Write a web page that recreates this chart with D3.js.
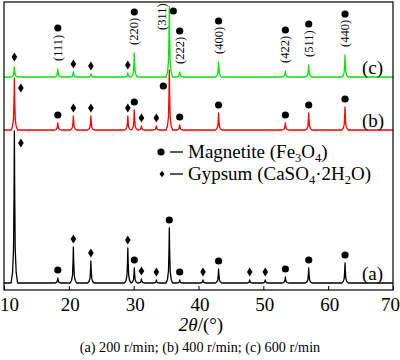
<!DOCTYPE html>
<html><head><meta charset="utf-8">
<script src="https://cdn.jsdelivr.net/npm/d3@7"></script>
<style>body{margin:0;background:#fff}svg{display:block}text{font-family:"Liberation Serif","Times New Roman",serif}</style>
</head><body><svg id="c" width="400" height="360"></svg>
<script>
// ---- data ----
const twoTheta   = [11.6, 18.3, 20.7, 23.4, 29.1, 30.1, 31.2, 33.5, 35.5, 37.1, 40.7, 43.1, 47.9, 50.3, 53.4, 57.0, 62.6];
const phase      = ["G","M","G","G","G","M","G","G","M","M","G","M","G","G","M","M","M"];
const hkl        = ["","(111)","","","","(220)","","","(311)","(222)","","(400)","","","(422)","(511)","(440)"];
const intensityA = [152, 5, 36, 22, 35, 15, 4, 3, 55, 3, 3, 14, 3, 3, 6, 15, 20];
const intensityB = [52, 7, 14, 14, 14, 20, 4, 4, 60, 5, 0, 17, 0, 0, 7, 17, 23];
const intensityC = [10, 8, 5, 3, 4, 24, 0, 0, 70, 5, 0, 15, 0, 0, 6, 12, 22];
const seriesNames = ["(a)", "(b)", "(c)"];
const seriesOffset = [7, 160, 213];
const seriesColors = ["#000000", "#ff0000", "#00e600"];
const xTicks = [10, 20, 30, 40, 50, 60, 70];
const legendLabels = ["Magnetite", "Gypsum"];
const caption = "(a) 200 r/min; (b) 400 r/min; (c) 600 r/min";

const svg = d3.select("#c");
const m = {l: 4, r: 7, t: 2, b: 70};
const W = 400, H = 360;
const x = d3.scaleLinear().domain([10, 70]).range([m.l, W - m.r]);
const y = d3.scaleLinear().domain([0, 288]).range([H - m.b, m.t]);

// peak profile (shape only)
const prof = [[-0.5,0],[-0.28,0.07],[-0.13,0.22],[-0.05,0.6],[0,1],[0.05,0.6],[0.13,0.22],[0.28,0.07],[0.5,0]];
function buildPts(ints, off){
  const pts = [[10, off]];
  twoTheta.forEach((p,i)=>{ if(ints[i]>0) prof.forEach(([dx,f])=>pts.push([p+dx, off+f*ints[i]])); });
  pts.push([70, off]);
  return pts;
}
const line = d3.line().x(d=>x(d[0])).y(d=>y(d[1]));
const allInts = [intensityA, intensityB, intensityC];

allInts.forEach((ints, s)=>{
  svg.append("path").attr("d", line(buildPts(ints, seriesOffset[s])))
    .attr("fill","none").attr("stroke", seriesColors[s]).attr("stroke-width",1.3).attr("stroke-linejoin","round");
});

// frame + axis
svg.append("rect").attr("x", x(10)).attr("y", y(288)).attr("width", x(70)-x(10)).attr("height", y(0)-y(288))
  .attr("fill","none").attr("stroke","#000").attr("stroke-width",1.2);
const ax = d3.axisBottom(x).tickValues(xTicks).tickSize(-4).tickPadding(8).tickFormat(d3.format("d"));
const g = svg.append("g").attr("transform",`translate(0,${y(0)})`).call(ax);
g.select(".domain").remove();
g.selectAll(".tick line").attr("stroke","#000").attr("stroke-width",1);
g.selectAll(".tick text").attr("font-size",19).attr("fill","#000").attr("font-family","Liberation Serif, serif")
  .attr("dx", d => d===10 ? 5 : (d===70 ? -3 : 1));

// markers
const diamond = "M0,-4.5L2.8,0L0,4.5L-2.8,0Z";
function marker(px, py, ph){
  if(ph==="M") svg.append("circle").attr("cx",px).attr("cy",py).attr("r",3.6).attr("fill","#000");
  else svg.append("path").attr("d",diamond).attr("transform",`translate(${px},${py})`).attr("fill","#000");
}
allInts.forEach((ints, s)=>{
  twoTheta.forEach((p,i)=>{
    if(ints[i]<=0) return;
    const top = y(seriesOffset[s]+ints[i]);
    let mx = x(p), my;
    if(s===2 && phase[i]==="M"){
      if(hkl[i]==="(311)"){
        svg.append("text").attr("transform",`translate(${x(p)-7},30) rotate(-90)`).attr("font-size",12.5)
          .attr("dominant-baseline","central").text(hkl[i]);
        marker(x(p)+4, top+4, "M");
        return;
      }
      svg.append("text").attr("transform",`translate(${x(p)},${top-8}) rotate(-90)`).attr("font-size",12.5)
        .attr("dominant-baseline","central").text(hkl[i]);
      marker(mx, top-41, "M");
      return;
    }
    my = top - 8;
    if(i===0 && s===0){ mx = x(p)+6.5; my = top+12; }
    if(i===0 && s===1){ mx = x(p)+6.5; my = top+10; }
    if(i===8 && s===1){ mx = x(p)-6; my = top+16; }
    if(i===0 && s===2){ my = top-10; }
    marker(mx, my, phase[i]);
  });
  svg.append("text").attr("x", 362).attr("y", y(seriesOffset[s]) - 3).attr("font-size",19).text(seriesNames[s]);
});

// legend
const lg = svg.append("g");
marker(161, 152, "M");
lg.append("line").attr("x1",170).attr("x2",183).attr("y1",152).attr("y2",152).attr("stroke","#000").attr("stroke-width",1.3);
svg.append("path").attr("d","M0,-3.2L2.5,0L0,3.2L-2.5,0Z").attr("transform","translate(162,174)").attr("fill","#000");
lg.append("line").attr("x1",170).attr("x2",183).attr("y1",174).attr("y2",174).attr("stroke","#000").attr("stroke-width",1.3);
const t1 = lg.append("text").attr("x",188).attr("y",158).attr("font-size",19);
t1.append("tspan").text(legendLabels[0] + " (Fe");
t1.append("tspan").attr("font-size",12.5).attr("dy",4).text("3");
t1.append("tspan").attr("dy",-4).text("O");
t1.append("tspan").attr("font-size",12.5).attr("dy",4).text("4");
t1.append("tspan").attr("dy",-4).text(")");
const t2 = lg.append("text").attr("x",188).attr("y",180).attr("font-size",19);
t2.append("tspan").text(legendLabels[1] + " (CaSO");
t2.append("tspan").attr("font-size",12.5).attr("dy",4).text("4");
t2.append("tspan").attr("dy",-4).text("·2H");
t2.append("tspan").attr("font-size",12.5).attr("dy",4).text("2");
t2.append("tspan").attr("dy",-4).text("O)");

// axis title
const at = svg.append("text").attr("x",201).attr("y",331).attr("text-anchor","middle").attr("font-size",19);
at.append("tspan").attr("font-style","italic").text("2θ");
at.append("tspan").text("/(°)");
svg.append("text").attr("x",200).attr("y",352).attr("text-anchor","middle").attr("font-size",14.2).text(caption);
</script></body></html>
